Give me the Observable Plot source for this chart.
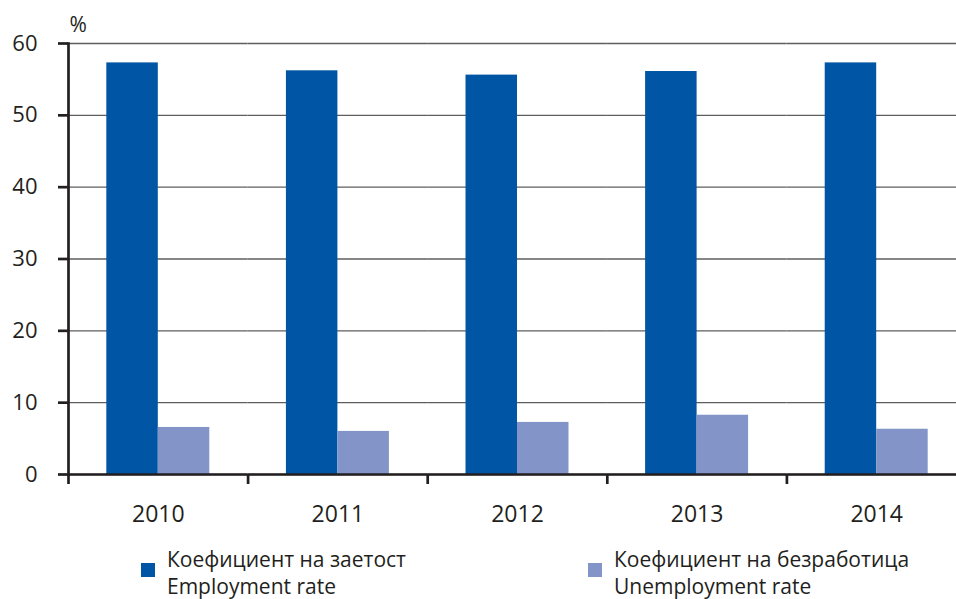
<!DOCTYPE html>
<html>
<head>
<meta charset="utf-8">
<script src="https://cdn.jsdelivr.net/npm/d3@7"></script>
<script src="https://cdn.jsdelivr.net/npm/@observablehq/plot@0.6"></script>
<style>
  html, body { margin: 0; padding: 0; background: #fff; overflow: hidden; width: 956px; height: 599px; }
  #chart svg { display: block; overflow: hidden; }
  .legend { position: relative; height: 63px; font-family: "Open Sans", sans-serif; font-size: 21px; line-height: 27px; color: #231f20; }
  .swatch { position: absolute; width: 14px; height: 14px; top: 27px; }
  .label { position: absolute; white-space: nowrap; top: 10px; }
</style>
</head>
<body>
<div id="chart"></div>
<div class="legend" id="legend"></div>
<script>
const years = ["2010", "2011", "2012", "2013", "2014"];
const seriesBg = ["Коефициент на заетост", "Коефициент на безработица"];
const seriesEn = ["Employment rate", "Unemployment rate"];
const employment = [57.3, 56.2, 55.6, 56.1, 57.3];
const unemployment = [6.55, 6.0, 7.25, 8.25, 6.3];
const yTicks = [0, 10, 20, 30, 40, 50, 60];
const colors = ["#0055a4", "#8294c8"];

const data = years.flatMap((year, i) => [
  {year, series: seriesBg[0], value: employment[i]},
  {year, series: seriesBg[1], value: unemployment[i]}
]);

const ink = "#231f20";

const plot = Plot.plot({
  width: 956,
  height: 536,
  marginLeft: 68,
  marginRight: 0,
  marginTop: 43,
  marginBottom: 62,
  style: {fontFamily: "Open Sans, sans-serif", background: "#fff", color: ink, overflow: "hidden"},
  fx: {domain: years, range: [68, 966], padding: 0, round: false, label: null},
  x: {domain: seriesBg, paddingInner: 0, paddingOuter: 0.744, round: false, axis: null},
  y: {domain: [0, 60]},
  color: {domain: seriesBg, range: colors},
  marks: [
    Plot.gridY(yTicks, {stroke: "#5e5e5e", strokeOpacity: 1, strokeWidth: 1.4}),
    Plot.barY(data, {fx: "year", x: "series", y: "value", fill: "series"}),
    Plot.ruleY([0], {stroke: ink, strokeWidth: 2.7}),
    Plot.frame({anchor: "left", facetAnchor: "left", stroke: ink, strokeWidth: 2.7}),
    Plot.axisY(yTicks, {tickSize: 10, tickPadding: 21, fontSize: 22, stroke: ink, strokeWidth: 2.7, fill: ink, label: null}),
    Plot.axisFx({anchor: "bottom", tickSize: 0, tickPadding: 31, fontSize: 23, fill: ink, label: null}),
    Plot.axisFx({anchor: "bottom", tickSize: 10, text: null, dx: -89.8, stroke: ink, strokeWidth: 2.7, label: null}),
    Plot.text(["%"], {frameAnchor: "top-left", facet: "super", lineAnchor: "middle", dx: 1, dy: -18, textAnchor: "start", fontSize: 21, fill: ink})
  ]
});
document.getElementById("chart").appendChild(plot);

const legend = document.getElementById("legend");
const lefts = [141, 588];
seriesBg.forEach((s, i) => {
  const sw = document.createElement("div");
  sw.className = "swatch";
  sw.style.left = lefts[i] + "px";
  sw.style.background = colors[i];
  legend.appendChild(sw);
  const lab = document.createElement("div");
  lab.className = "label";
  lab.style.left = (lefts[i] + 26) + "px";
  lab.innerHTML = s + "<br>" + seriesEn[i];
  legend.appendChild(lab);
});
</script>
</body>
</html>
